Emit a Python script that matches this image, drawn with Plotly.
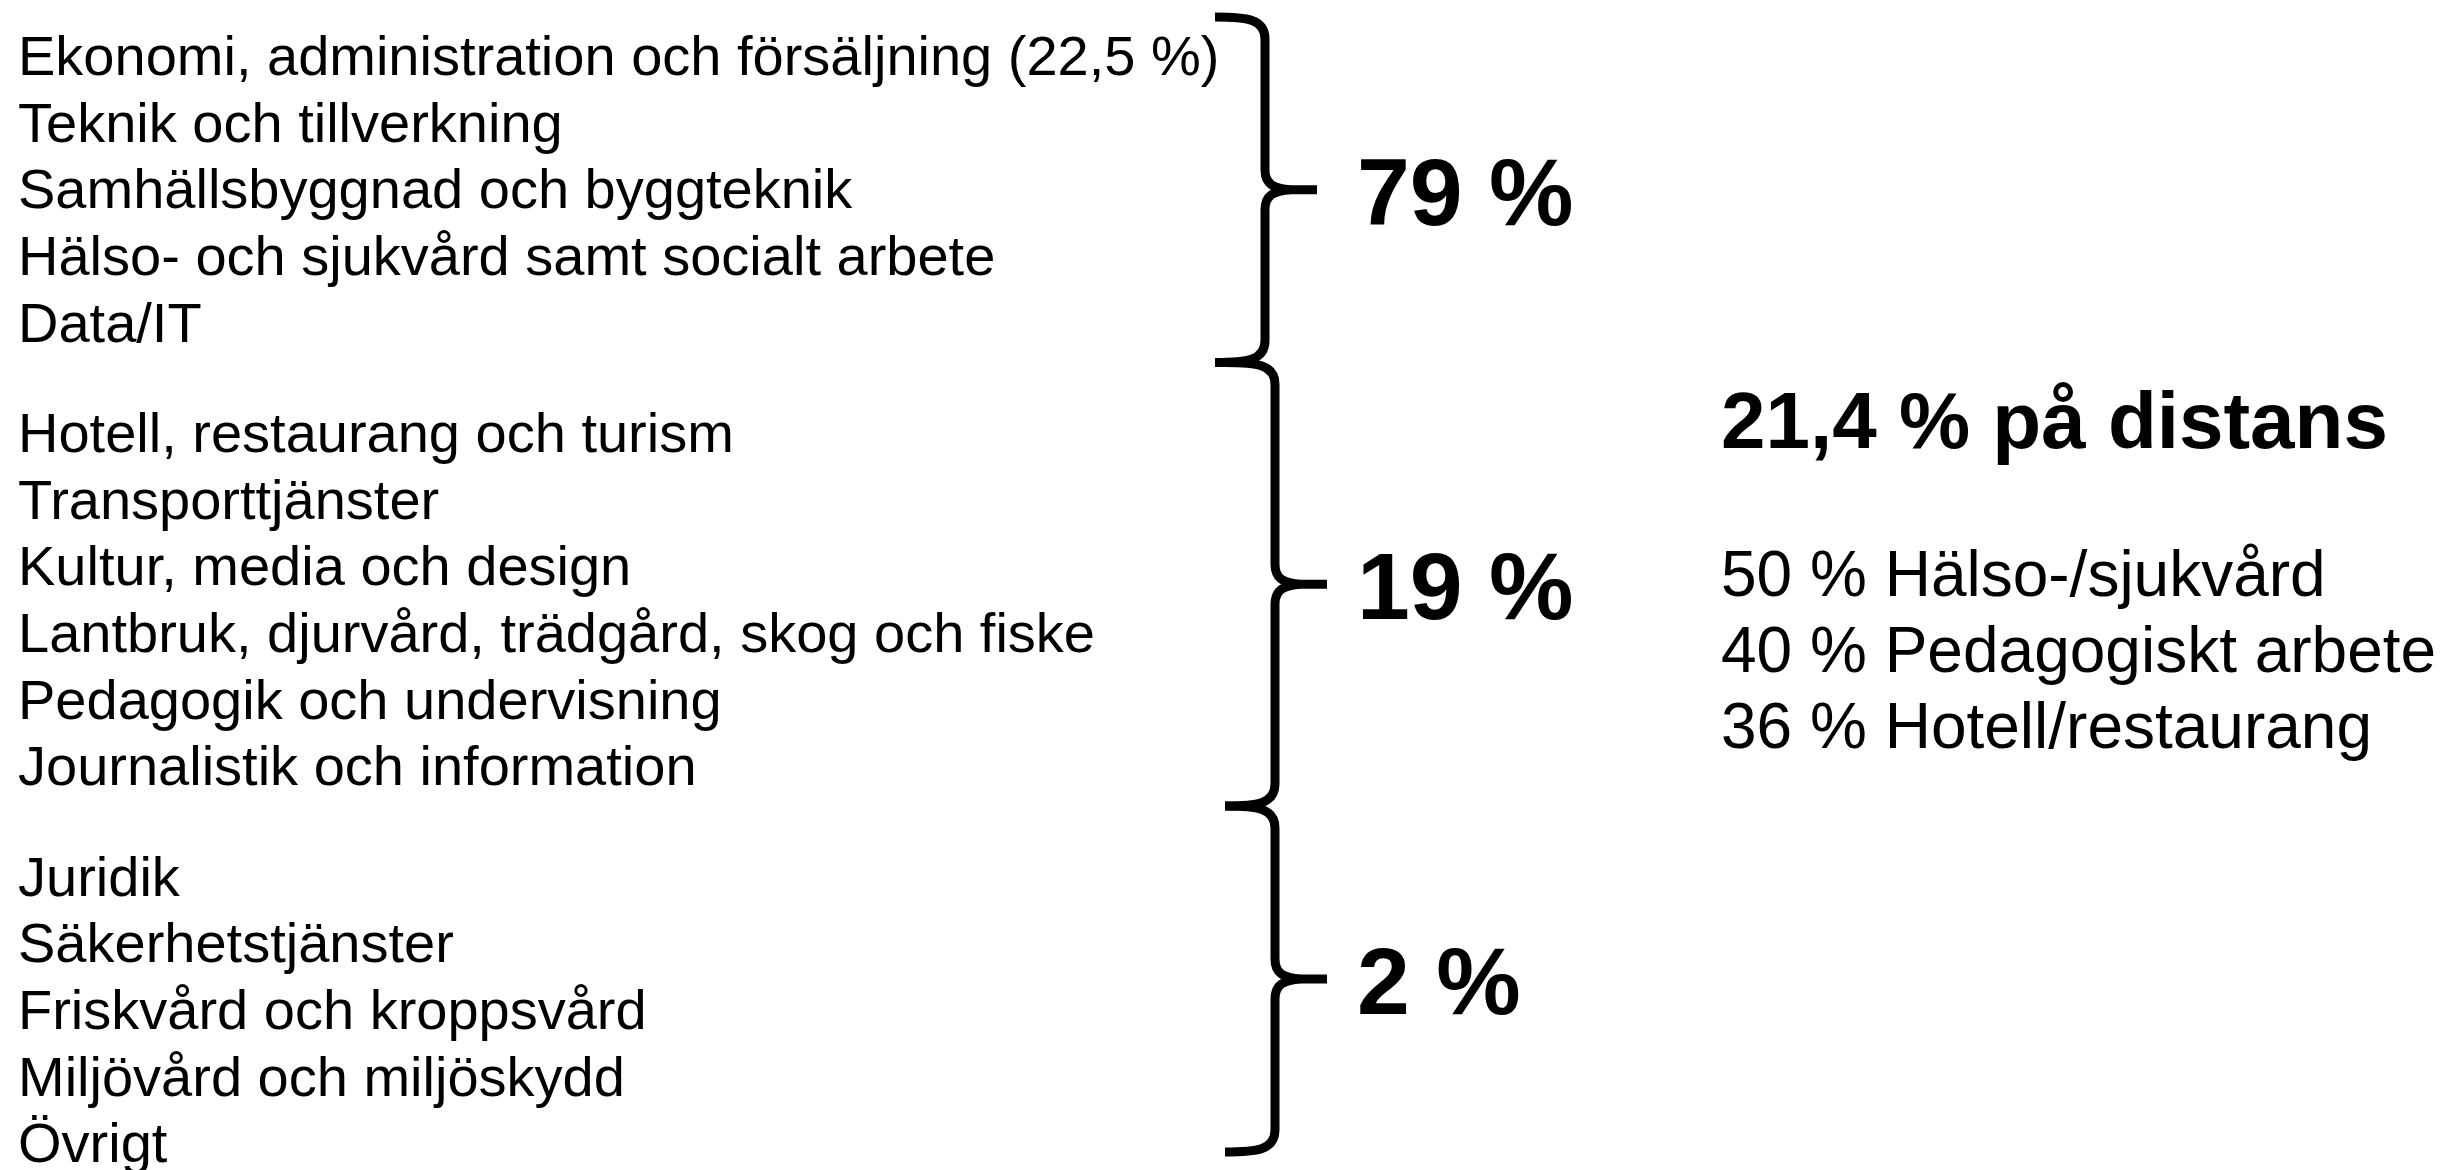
import plotly.graph_objects as go

# ---------------- data ----------------
group1_items = [
    "Ekonomi, administration och försäljning (22,5 %)",
    "Teknik och tillverkning",
    "Samhällsbyggnad och byggteknik",
    "Hälso- och sjukvård samt socialt arbete",
    "Data/IT",
]
group2_items = [
    "Hotell, restaurang och turism",
    "Transporttjänster",
    "Kultur, media och design",
    "Lantbruk, djurvård, trädgård, skog och fiske",
    "Pedagogik och undervisning",
    "Journalistik och information",
]
group3_items = [
    "Juridik",
    "Säkerhetstjänster",
    "Friskvård och kroppsvård",
    "Miljövård och miljöskydd",
    "Övrigt",
]
group_shares = [79, 19, 2]          # % per group
distance_share = 21.4               # % på distans
distance_areas = ["Hälso-/sjukvård", "Pedagogiskt arbete", "Hotell/restaurang"]
distance_values = [50, 40, 36]

# ---------------- layout constants ----------------
W, H = 2440, 1170
FONT = "Liberation Sans, Arial, Helvetica, sans-serif"
ITEM_SIZE = 56
ITEM_X = 17
FIRST_BASELINE = 75
LINE_PITCH = 66.6
GROUP_GAP = 44
PCT_SIZE = 95
PCT_X = 1356
BRACE_X = [1265, 1275, 1275]
BRACE_W = 50      # horizontal reach of brace ends
TIP_LEN = 52      # reach of the tip
HEAD_SIZE = 80
HEAD_X = 1720
HEAD_BASELINE = 448
DIST_SIZE = 64
DIST_BASELINE = 596
DIST_PITCH = 76

ASC, DESC = 0.905, 0.212  # Liberation Sans metrics


def sv(num):
    return f"{num}".replace(".", ",")


fig = go.Figure()
fig.add_trace(go.Scatter(x=[0, W], y=[0, H], mode="markers",
                         marker=dict(opacity=0), hoverinfo="skip", showlegend=False))

annotations = []
shapes = []


def add_text(text, x, baseline, size, bold=False):
    ycenter = baseline - (ASC - DESC) / 2 * size
    annotations.append(dict(
        x=x, y=ycenter, xref="x", yref="y", text=text, showarrow=False,
        xanchor="left", yanchor="middle", borderpad=0,
        font=dict(family=FONT, size=size, color="black",
                  weight="bold" if bold else "normal"),
    ))


groups = [group1_items, group2_items, group3_items]
k = 0
spans = []
prev_bottom = None
for g, items in enumerate(groups):
    baselines = []
    for item in items:
        b = FIRST_BASELINE + LINE_PITCH * k + GROUP_GAP * g
        add_text(item, ITEM_X, b, ITEM_SIZE)
        baselines.append(b)
        k += 1
    top = baselines[0] - 58 if prev_bottom is None else prev_bottom
    bottom = min(baselines[-1] + 21, H - 18)
    prev_bottom = bottom
    spans.append((top, bottom))


def brace_path(xv, y0, y1):
    ym = (y0 + y1) / 2
    xl = xv - BRACE_W
    xt = xv + TIP_LEN
    p = (
        f"M {xl},{y0} C {xv-18},{y0} {xv},{y0+2} {xv},{y0+22} "
        f"L {xv},{ym-20} C {xv},{ym-6} {xv+8},{ym-1} {xv+26},{ym} "
        f"L {xt},{ym} "
        f"M {xv+26},{ym} C {xv+8},{ym+1} {xv},{ym+6} {xv},{ym+20} "
        f"L {xv},{y1-22} C {xv},{y1-2} {xv-18},{y1} {xl},{y1}"
    )
    return p, ym


for g, (y0, y1) in enumerate(spans):
    p, ym = brace_path(BRACE_X[g], y0, y1)
    shapes.append(dict(type="path", path=p, xref="x", yref="y",
                       line=dict(color="black", width=9)))
    add_text(f"{group_shares[g]} %", PCT_X, ym + 0.358 * PCT_SIZE + 1, PCT_SIZE, bold=True)

add_text(f"{sv(distance_share)} % på distans", HEAD_X, HEAD_BASELINE, HEAD_SIZE, bold=True)
for i, (v, a) in enumerate(zip(distance_values, distance_areas)):
    add_text(f"{v} % {a}", HEAD_X, DIST_BASELINE + DIST_PITCH * i, DIST_SIZE)

fig.update_layout(
    width=W, height=H,
    margin=dict(l=0, r=0, t=0, b=0),
    paper_bgcolor="white", plot_bgcolor="white",
    xaxis=dict(range=[0, W], visible=False, fixedrange=True),
    yaxis=dict(range=[H, 0], visible=False, fixedrange=True),
    annotations=annotations, shapes=shapes, showlegend=False,
)

fig.write_html("out.html", config={"displayModeBar": False},
               post_script="document.body.style.margin='0px';document.body.style.overflow='hidden';")
